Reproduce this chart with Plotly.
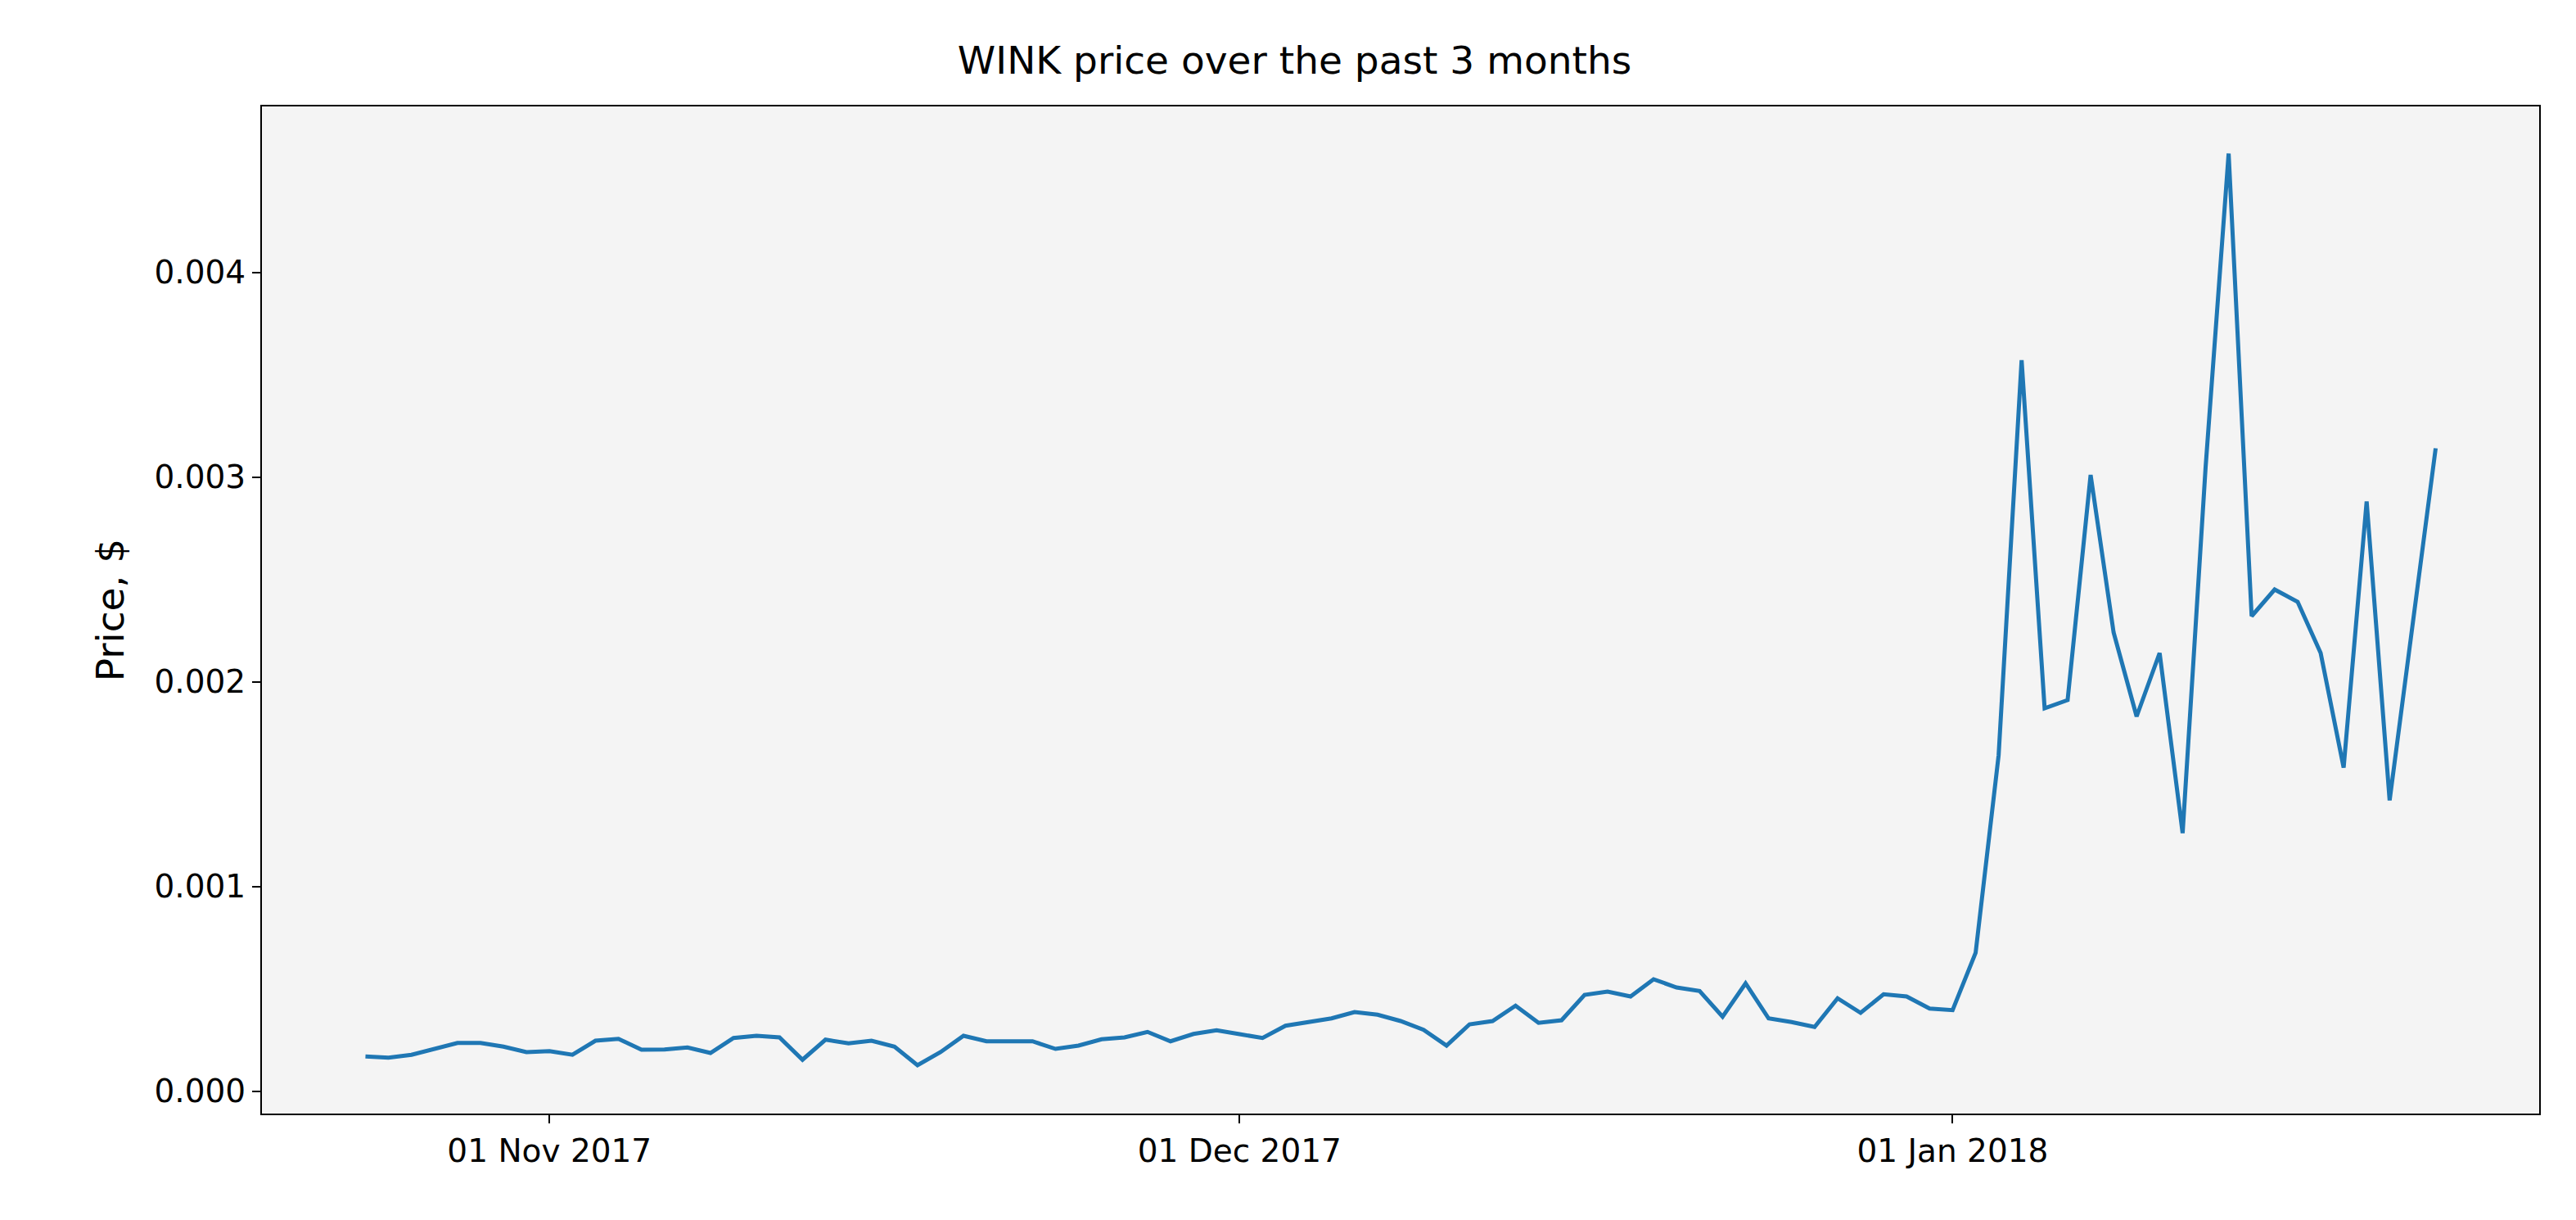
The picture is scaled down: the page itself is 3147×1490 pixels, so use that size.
import pandas as pd
import plotly.graph_objects as go

# daily WINK price, 24 Oct 2017 .. 22 Jan 2018
start_date = "2017-10-24"
prices = [
    0.000169, 0.000163, 0.000177, 0.000206, 0.000235, 0.000235, 0.000217, 0.000190,
    0.000195, 0.000177, 0.000246, 0.000255, 0.000202, 0.000203, 0.000213, 0.000186,
    0.000259, 0.000270, 0.000262, 0.000153, 0.000251, 0.000233, 0.000246, 0.000217,
    0.000126, 0.000190, 0.000270, 0.000243, 0.000241, 0.000243, 0.000206, 0.000222,
    0.000253, 0.000262, 0.000289, 0.000243, 0.000279, 0.000297, 0.000278, 0.000259,
    0.000319, 0.000337, 0.000355, 0.000386, 0.000373, 0.000342, 0.000299, 0.000222,
    0.000326, 0.000342, 0.000417, 0.000333, 0.000346, 0.000470, 0.000486, 0.000462,
    0.000546, 0.000506, 0.000489, 0.000363, 0.000526, 0.000355, 0.000337, 0.000313,
    0.000453, 0.000382, 0.000473, 0.000462, 0.000403, 0.000395, 0.000675, 0.00164,
    0.00357, 0.00187, 0.00191, 0.00301, 0.00224, 0.00183, 0.00214, 0.00126,
    0.00305, 0.00458, 0.00232, 0.00245, 0.00239, 0.00214, 0.00158, 0.00288,
    0.00142, 0.00228, 0.00314,
]
dates = pd.date_range(start_date, periods=len(prices), freq="D")

tick_dates = ["2017-11-01", "2017-12-01", "2018-01-01"]
tick_labels = ["01 Nov 2017", "01 Dec 2017", "01 Jan 2018"]

fig = go.Figure()
fig.add_trace(go.Scatter(x=dates, y=prices, mode="lines",
                         line=dict(color="#1f77b4", width=5)))

font = "DejaVu Sans"
fig.update_layout(
    width=3147, height=1490,
    paper_bgcolor="white", plot_bgcolor="#f4f4f4",
    margin=dict(l=312, r=53, t=122, b=138),
    showlegend=False,
    font=dict(family=font, size=39, color="black"),
    title=dict(text="WINK price over the past 3 months", x=0.5, xanchor="center",
               y=1 - 66 / 1490, yanchor="middle", font=dict(size=47)),
)
fig.update_xaxes(
    range=["2017-10-19 12:00", "2018-01-26 12:00"],
    tickvals=tick_dates, ticktext=tick_labels,
    ticks="outside", ticklen=10, tickwidth=2, tickcolor="black",
    showgrid=False, zeroline=False,
    showline=True, linecolor="black", linewidth=2, mirror=True,
)
fig.update_yaxes(
    range=[-0.00011, 0.00481], dtick=0.001, tick0=0, tickformat=".3f",
    ticks="outside", ticklen=10, tickwidth=2, tickcolor="black",
    showgrid=False, zeroline=False,
    showline=True, linecolor="black", linewidth=2, mirror=True,
    title=dict(text="Price, $", standoff=22),
)

fig.write_html("out.html")
